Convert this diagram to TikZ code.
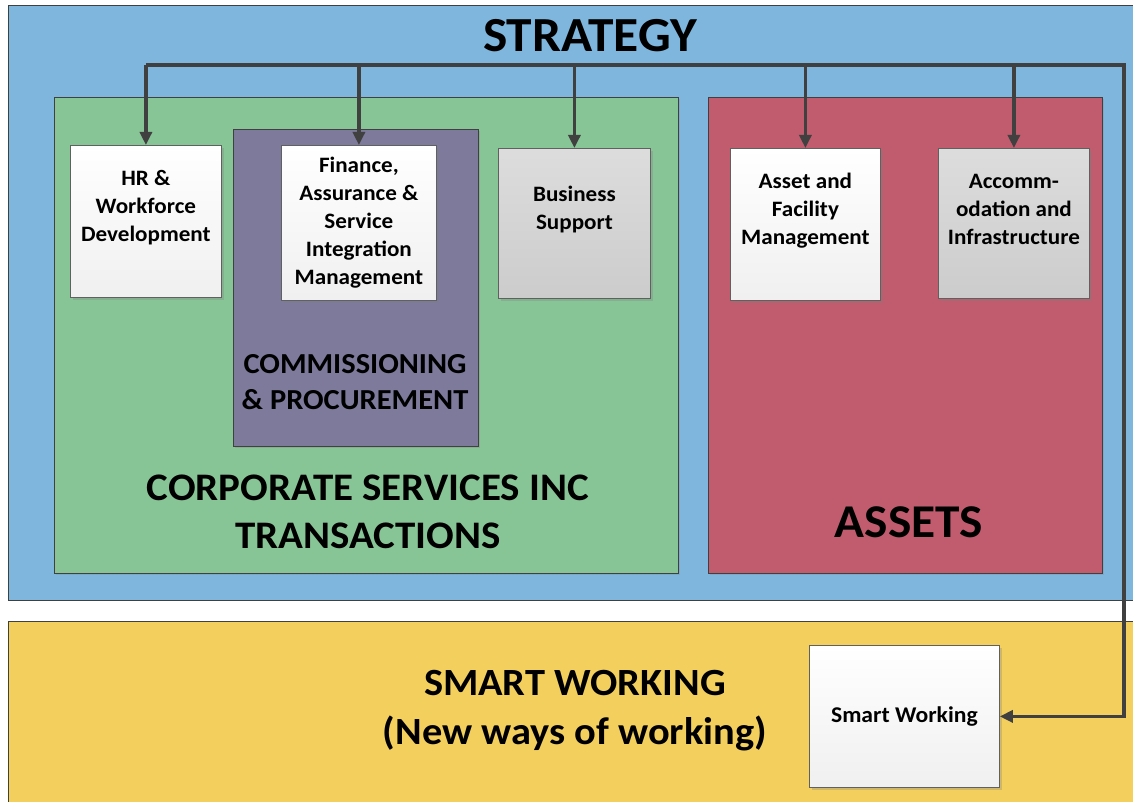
\documentclass[tikz,border=0pt]{standalone}
\usepackage{fontspec}
\setmainfont{Carlito}[FakeStretch=1.05]
\usetikzlibrary{arrows.meta, shadows}

\definecolor{stratblue}{HTML}{7EB6DE}
\definecolor{corpgreen}{HTML}{88C596}
\definecolor{assetred}{HTML}{C05C6D}
\definecolor{procpurple}{HTML}{7D7A9C}
\definecolor{smartyellow}{HTML}{F3CF5E}
\definecolor{wiregray}{HTML}{404040}

\tikzstyle{area} = [rectangle, draw=wiregray, line width=0.8pt, inner sep=0pt, anchor=north west]
\tikzstyle{card} = [rectangle, draw=gray!75!black, line width=0.8pt, inner sep=0pt, anchor=north west,
    top color=white, bottom color=gray!12,
    drop shadow={shadow xshift=2.5pt, shadow yshift=-2.5pt, opacity=.3}]
\tikzstyle{greycard} = [card, top color=gray!27, bottom color=gray!40]
\tikzstyle{cardtext} = [font=\bfseries\fontsize{22}{28}\selectfont, align=center]
\tikzstyle{bigtext} = [font=\bfseries\fontsize{39}{48}\selectfont, align=center]
\tikzstyle{wire} = [draw=wiregray, line width=3.2pt]

\begin{document}
\begin{tikzpicture}[x=1pt, y=-1pt, >={Triangle[length=13pt, width=12pt]}]
    \useasboundingbox (0,0) rectangle (1133,802);

    % coloured areas
    \node (strategy) [area, fill=stratblue, minimum width=1130pt, minimum height=595pt] at (8,5) {};
    \node (smartarea) [area, fill=smartyellow, minimum width=1130pt, minimum height=185pt] at (8,621) {};
    \node (corporate) [area, fill=corpgreen, minimum width=624pt, minimum height=476pt,
        drop shadow={shadow xshift=2pt, shadow yshift=-2pt, opacity=.25}] at (54,97) {};
    \node (assets) [area, fill=assetred, minimum width=394pt, minimum height=476pt,
        drop shadow={shadow xshift=2pt, shadow yshift=-2pt, opacity=.25}] at (708,97) {};
    \node (procurement) [area, fill=procpurple, minimum width=245pt, minimum height=317pt,
        drop shadow={shadow xshift=2pt, shadow yshift=-2pt, opacity=.3}] at (233,129) {};

    % area titles
    \node (strategytitle) [font=\bfseries\fontsize{49}{52}\selectfont] at (590,36) {STRATEGY};
    \node (corporatetitle) [bigtext] at (368,512) {CORPORATE SERVICES INC\\TRANSACTIONS};
    \node (assetstitle) [font=\bfseries\fontsize{47}{50}\selectfont] at (909,522) {ASSETS};
    \node (proctitle) [font=\bfseries\fontsize{29}{36}\selectfont, align=center] at (355,382)
        {COMMISSIONING\\\& PROCUREMENT};
    \node (smarttitle) [bigtext, font=\bfseries\fontsize{38.5}{49}\selectfont] at (575,711)
        {SMART WORKING\\(New ways of working)};

    % service boxes
    \node (hr) [card, minimum width=151pt, minimum height=152pt] at (70,145) {};
    \node (finance) [card, minimum width=155pt, minimum height=155pt] at (281,145) {};
    \node (business) [greycard, minimum width=152pt, minimum height=150pt] at (498,148) {};
    \node (facility) [card, minimum width=150pt, minimum height=152pt] at (730,148) {};
    \node (accomm) [greycard, minimum width=151pt, minimum height=150pt] at (938,148) {};
    \node (smart) [card, minimum width=190pt, minimum height=142pt] at (809,645) {};

    \node (hrtext) [cardtext] at ([yshift=14pt]hr.center) {HR \&\\Workforce\\Development};
    \node (financetext) [cardtext] at (finance.center) {Finance,\\Assurance \&\\Service\\Integration\\Management};
    \node (businesstext) [cardtext] at ([yshift=14pt]business.center) {Business\\Support};
    \node (facilitytext) [cardtext] at ([yshift=14pt]facility.center) {Asset and\\Facility\\Management};
    \node (accommtext) [cardtext] at ([yshift=14pt]accomm.center) {Accomm-\\odation and\\Infrastructure};
    \node (smarttext) [font=\bfseries\fontsize{22.5}{26}\selectfont] at (smart.center) {Smart Working};

    % strategy feed
    \coordinate (turn) at (1124,65);
    \draw [wire, ->, line join=miter] (hr.north |- turn) -- (turn) |- (smart.east);
    \foreach \n in {hr, finance, business, facility, accomm}
        \draw [wire, ->] (\n.north |- turn) -- (\n.north);
\end{tikzpicture}
\end{document}
